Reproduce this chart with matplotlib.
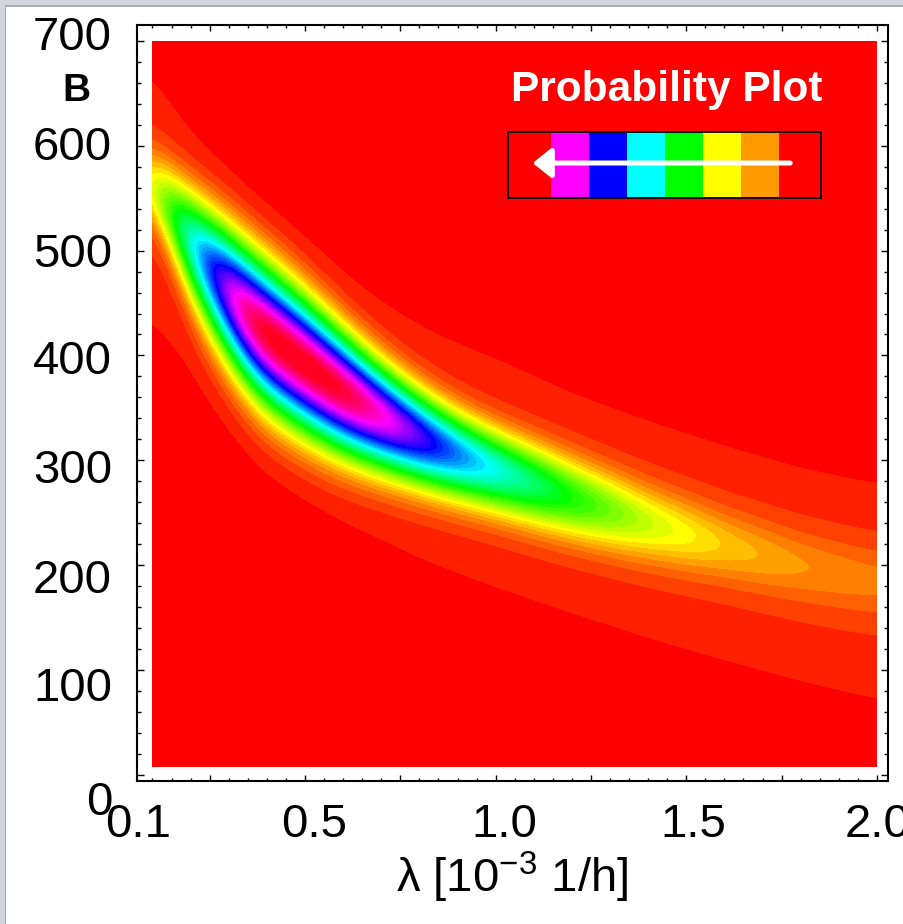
import numpy as np
import matplotlib
matplotlib.use('Agg')
import matplotlib.pyplot as plt
from matplotlib.colors import hsv_to_rgb, to_rgb, ListedColormap, BoundaryNorm
from matplotlib.patches import Rectangle
from matplotlib.transforms import ScaledTranslation
from matplotlib.ticker import MultipleLocator, FixedLocator, FuncFormatter

plt.rcParams['font.family'] = ['Liberation Sans', 'DejaVu Sans']
plt.rcParams['mathtext.default'] = 'regular'

# ridge of the probability surface
lam_pts = [0.10, 0.15, 0.20, 0.25, 0.30, 0.35, 0.40, 0.50, 0.60, 0.70,
           0.80, 0.90, 1.00, 1.20, 1.40, 1.60, 1.80, 2.00]
ridge_B = [568, 535, 510, 485, 462, 438, 420, 392, 365, 342,
           322, 305, 291, 264, 240, 219, 199, 184]
peak_val = [0.14, 0.30, 0.47, 0.63, 0.80, 0.95, 1.01, 1.01, 0.99, 0.87,
            0.73, 0.59, 0.49, 0.33, 0.21, 0.14, 0.105, 0.09]
width_up = [24, 27, 31, 34, 37, 39, 40, 38, 34, 30,
            27, 25, 24, 24, 23, 22, 22, 22]
width_dn = [21, 29, 37, 41, 42, 42, 42, 40, 36, 32,
            29, 27, 26, 25, 24, 23, 23, 23]
halo_up = [82, 82, 80, 80, 80, 80, 80, 82, 84, 85,
           85, 85, 85, 80, 78, 76, 75, 75]
halo_dn = [105, 100, 98, 95, 92, 90, 90, 90, 92, 92,
           92, 90, 90, 88, 88, 88, 88, 90]
halo_amp = 0.045

lam_range = (0.1, 2.0)
B_range = (8, 700)

legend_colors = ['#FF00FF', '#0000FF', '#00FFFF', '#00FF00', '#FFFF00', '#FF9900']

x_labels = {0.5: '0.5', 1.0: '1.0', 1.5: '1.5', 2.0: '2.0'}
y_labels = [0, 100, 200, 300, 400, 500, 600, 700]


def profile(lam, pts, vals, k=6):
    # column profile on the fine grid, lightly smoothed so the ridge has no kinks
    p = np.interp(lam, pts, vals)
    w = np.exp(-0.5 * (np.arange(-3 * k, 3 * k + 1) / k) ** 2)
    w /= w.sum()
    return np.convolve(np.pad(p, 3 * k, mode='edge'), w, mode='valid')


lam = np.linspace(lam_range[0], lam_range[1], 300)
Bv = np.linspace(B_range[0], B_range[1], 280)
c = profile(lam, lam_pts, ridge_B)
pk = profile(lam, lam_pts, peak_val)
su = profile(lam, lam_pts, width_up)
sd = profile(lam, lam_pts, width_dn)
hu = profile(lam, lam_pts, halo_up)
hd = profile(lam, lam_pts, halo_dn)

L, BB = np.meshgrid(lam, Bv)
d = BB - c[None, :]
s = np.where(d > 0, su[None, :], sd[None, :])
h = np.where(d > 0, hu[None, :], hd[None, :])
Z = (pk[None, :] - halo_amp) * np.exp(-d**2 / (2 * s**2)) + halo_amp * np.exp(-d**2 / (2 * h**2))
Z = np.clip(Z, 0, 1)

levels = np.linspace(0, 1, 49)
levels[-1] = 1.001
hues = levels[:-1]
cols = hsv_to_rgb(np.stack([hues, np.ones_like(hues), np.ones_like(hues)], axis=1))
cmap = ListedColormap(cols)
norm = BoundaryNorm(levels, cmap.N)

W, H = 904, 924
fig = plt.figure(figsize=(W / 100, H / 100), dpi=100)
ax = fig.add_axes([137 / W, 1 - 781 / H, (888 - 137) / W, (781 - 25) / H])
ax.contourf(L, BB, Z, levels=levels, cmap=cmap, norm=norm, antialiased=False)

ax.set_xlim(0.0594, 2.029)
ax.set_ylim(-6.1, 715.3)

ax.xaxis.set_major_locator(FixedLocator(np.arange(0.25, 2.01, 0.25)))
ax.xaxis.set_minor_locator(FixedLocator(np.arange(0.10, 2.01, 0.05)))
ax.xaxis.set_major_formatter(FuncFormatter(lambda v, p: x_labels.get(round(v, 2), '')))
ax.xaxis.set_minor_formatter(FuncFormatter(lambda v, p: '0.1' if abs(v - 0.1) < 1e-6 else ''))
ax.yaxis.set_major_locator(FixedLocator(y_labels))
ax.yaxis.set_minor_locator(MultipleLocator(20))

ax.tick_params(which='both', direction='in', top=True, right=True, width=1.0, color='black')
ax.tick_params(axis='y', which='major', length=5, labelsize=34, pad=18)
ax.tick_params(axis='y', which='minor', length=3)
ax.tick_params(axis='x', which='major', length=4, labelsize=34, pad=16)
ax.tick_params(axis='x', which='minor', length=2, labelsize=34, pad=16)
for sp in ax.spines.values():
    sp.set_linewidth(1.5)

# the pasted labels in the original sit slightly off their ticks
y_shift = {0: -23, 100: -14, 200: -11, 300: -6, 400: -2, 500: 1, 600: 3, 700: 8}
for t, v in zip(ax.yaxis.get_major_ticks(), ax.yaxis.get_majorticklocs()):
    dy = y_shift.get(int(round(v)), 0)
    t.label1.set_transform(t.label1.get_transform() + ScaledTranslation(0, dy / 100, fig.dpi_scale_trans))
x_shift = {0.5: 9, 1.0: 9, 1.5: 7, 2.0: 1}
for t, v in zip(ax.xaxis.get_major_ticks(), ax.xaxis.get_majorticklocs()):
    dx = x_shift.get(round(v, 2), 0)
    t.label1.set_transform(t.label1.get_transform() + ScaledTranslation(dx / 100, 0, fig.dpi_scale_trans))
for t, v in zip(ax.xaxis.get_minor_ticks(), ax.xaxis.get_minorticklocs()):
    if abs(v - 0.1) < 1e-6:
        t.label1.set_transform(t.label1.get_transform() + ScaledTranslation(-14 / 100, 0, fig.dpi_scale_trans))

ax.set_xlabel('λ [10$^{-3}$ 1/h]', fontsize=34, labelpad=2)

fig.text(76 / W, 1 - 91 / H, 'B', fontsize=28, fontweight='bold', ha='center', va='center')
fig.text(667 / W, 1 - 101 / H, 'Probability Plot', fontsize=30.5, fontweight='bold',
         color='white', ha='center', va='baseline')

# colour key with arrow
lax = fig.add_axes([508 / W, 1 - 198 / H, (821 - 508) / W, 66 / H])
lax.set_facecolor('#FF0000')
lax.imshow(np.array([[to_rgb(cc) for cc in legend_colors]]),
           extent=(1, 1 + len(legend_colors), 0, 1), aspect='auto')
lax.set_xlim(-0.12, 8.12)
lax.set_ylim(0, 1)
lax.set_xticks([])
lax.set_yticks([])
for sp in lax.spines.values():
    sp.set_linewidth(1.3)
lax.annotate('', xy=(0.53, 0.53), xytext=(7.31, 0.53),
             arrowprops=dict(arrowstyle='-|>,head_length=0.75,head_width=0.6',
                             color='white', lw=3.6, mutation_scale=15, shrinkA=0, shrinkB=0))

# grey slide border
fig.add_artist(Rectangle((0, 1 - 5 / H), 1, 5 / H, transform=fig.transFigure,
                         facecolor='#d2d5dc', edgecolor='none'))
fig.add_artist(Rectangle((0, 0), 5 / W, 1, transform=fig.transFigure,
                         facecolor='#d2d5dc', edgecolor='none'))
fig.add_artist(Rectangle((5 / W, 0), 1.5 / W, 1 - 5 / H, transform=fig.transFigure,
                         facecolor='#a9abb0', edgecolor='none'))
fig.add_artist(Rectangle((5 / W, 1 - 6.5 / H), 1, 1.5 / H, transform=fig.transFigure,
                         facecolor='#a9abb0', edgecolor='none'))

fig.savefig('out.png', dpi=100)
